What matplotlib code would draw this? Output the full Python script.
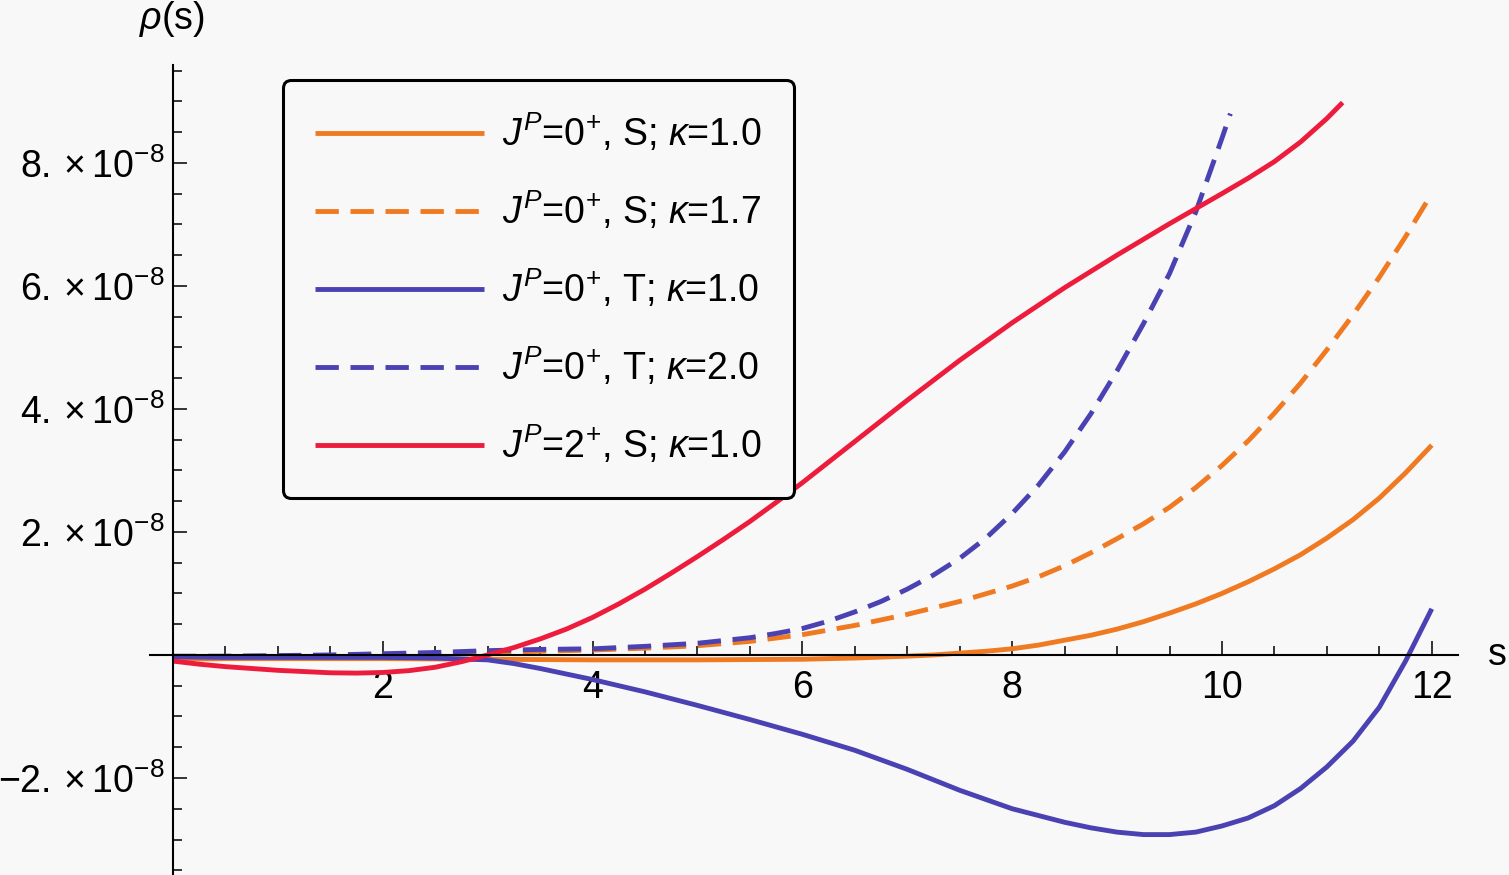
import numpy as np
import matplotlib
matplotlib.use("Agg")
import matplotlib.pyplot as plt

plt.rcParams['font.family'] = ['Liberation Sans', 'DejaVu Sans']
plt.rcParams['mathtext.fontset'] = 'custom'
plt.rcParams['mathtext.rm'] = 'Liberation Sans'
plt.rcParams['mathtext.it'] = 'Liberation Sans:italic'
plt.rcParams['mathtext.bf'] = 'Liberation Sans:bold'

# ---------------- data (values in units of 1e-8) ----------------
s_S10 = [0, 0.5, 1, 2, 3, 4, 5, 6, 6.5, 7, 7.25, 7.5, 7.75, 8, 8.25, 8.5, 8.75, 9, 9.25,
         9.5, 9.75, 10, 10.25, 10.5, 10.75, 11, 11.25, 11.5, 11.75, 12]
rho_S10 = [-0.07, -0.06, -0.06, -0.06, -0.07, -0.08, -0.08, -0.07, -0.05, -0.02, 0.0, 0.03,
           0.06, 0.10, 0.16, 0.24, 0.32, 0.42, 0.54, 0.68, 0.83, 1.00, 1.19, 1.40, 1.63,
           1.90, 2.20, 2.55, 2.96, 3.41]

s_S17 = [0, 0.5, 1, 1.5, 2, 2.5, 3, 3.5, 4, 4.5, 5, 5.5, 6, 6.5, 7, 7.5, 8, 8.25, 8.5, 8.75,
         9, 9.25, 9.5, 9.75, 10, 10.25, 10.5, 10.75, 11, 11.25, 11.5, 11.75, 12]
rho_S17 = [-0.07, -0.05, -0.03, -0.01, 0.0, 0.02, 0.04, 0.06, 0.08, 0.11, 0.15, 0.22, 0.33,
           0.48, 0.66, 0.87, 1.12, 1.27, 1.45, 1.66, 1.89, 2.13, 2.40, 2.72, 3.08, 3.48,
           3.93, 4.42, 4.96, 5.53, 6.14, 6.80, 7.50]

s_T10 = [0, 0.5, 1, 1.5, 2, 2.5, 3, 3.25, 3.5, 3.75, 4, 4.5, 5, 5.5, 6, 6.5, 7, 7.5, 8,
         8.5, 8.75, 9, 9.25, 9.5, 9.75, 10, 10.25, 10.5, 10.75, 11, 11.25, 11.5, 11.75, 12]
rho_T10 = [-0.03, -0.04, -0.04, -0.04, -0.04, -0.05, -0.08, -0.14, -0.22, -0.31, -0.40,
           -0.60, -0.82, -1.05, -1.29, -1.55, -1.86, -2.20, -2.50, -2.72, -2.81, -2.88,
           -2.92, -2.92, -2.88, -2.78, -2.65, -2.45, -2.17, -1.82, -1.40, -0.85, -0.10, 0.75]

s_T20 = [0, 0.5, 1, 1.5, 2, 2.5, 3, 3.5, 4, 4.5, 5, 5.5, 5.75, 6, 6.25, 6.5, 6.75, 7, 7.25,
         7.5, 7.75, 8, 8.25, 8.5, 8.75, 9, 9.25, 9.5, 9.75, 10, 10.08]
rho_T20 = [-0.02, -0.02, -0.01, 0.0, 0.02, 0.04, 0.07, 0.09, 0.10, 0.14, 0.19, 0.28, 0.35,
           0.43, 0.55, 0.70, 0.87, 1.07, 1.30, 1.57, 1.90, 2.30, 2.76, 3.30, 3.92, 4.62,
           5.38, 6.20, 7.20, 8.40, 8.80]

s_2S = [0, 0.25, 0.5, 0.75, 1, 1.25, 1.5, 1.75, 2, 2.25, 2.5, 2.75, 3, 3.25, 3.5, 3.75, 4,
        4.25, 4.5, 4.75, 5, 5.25, 5.5, 5.75, 6, 6.5, 7, 7.5, 8, 8.5, 9, 9.5, 10, 10.25,
        10.5, 10.75, 11, 11.15]
rho_2S = [-0.10, -0.15, -0.19, -0.22, -0.25, -0.27, -0.29, -0.295, -0.285, -0.255, -0.20,
          -0.11, 0.0, 0.12, 0.26, 0.42, 0.61, 0.83, 1.07, 1.33, 1.60, 1.88, 2.17, 2.48,
          2.80, 3.47, 4.14, 4.79, 5.40, 5.97, 6.50, 7.01, 7.50, 7.75, 8.02, 8.34, 8.72, 8.98]

labels = [r'$J^P$=0$^{+}$, S; $\kappa$=1.0',
          r'$J^P$=0$^{+}$, S; $\kappa$=1.7',
          r'$J^P$=0$^{+}$, T; $\kappa$=1.0',
          r'$J^P$=0$^{+}$, T; $\kappa$=2.0',
          r'$J^P$=2$^{+}$, S; $\kappa$=1.0']

x_major = [2, 4, 6, 8, 10, 12]
x_major_labels = ['2', '4', '6', '8', '10', '12']
y_major = [-2e-8, 2e-8, 4e-8, 6e-8, 8e-8]
y_major_labels = [r'$-2.\times10^{-8}$', r'$2.\times10^{-8}$', r'$4.\times10^{-8}$',
                  r'$6.\times10^{-8}$', r'$8.\times10^{-8}$']

# ---------------- style ----------------
W, H = 1509, 875
BG = '#f8f8f8'
ORANGE = '#F07A22'
BLUE = '#4A42B2'
RED = '#EE1C3C'
FS = 27
LW = 3.5

fig = plt.figure(figsize=(W / 100, H / 100), dpi=100, facecolor=BG)
ax = fig.add_axes([150 / W, 0, 1308 / W, 810 / H], facecolor=BG)

scale = 1e-8
dash = (0, (4.8, 2.4))
series = [
    (s_S10, rho_S10, ORANGE, '-'),
    (s_S17, rho_S17, ORANGE, dash),
    (s_T10, rho_T10, BLUE, '-'),
    (s_T20, rho_T20, BLUE, dash),
    (s_2S, rho_2S, RED, '-'),
]
handles = []
for (sx, ry, c, ls), lab in zip(series, labels):
    h, = ax.plot(sx, np.array(ry) * scale, color=c, lw=LW, linestyle=ls, label=lab,
                 solid_capstyle='butt', dash_capstyle='butt', solid_joinstyle='round')
    handles.append(h)

ax.set_xlim(-0.219, 12.25)
ax.set_ylim(-3.577e-8, 9.59e-8)

for sp in ['top', 'right']:
    ax.spines[sp].set_visible(False)
ax.spines['left'].set_position(('data', 0))
ax.spines['bottom'].set_position(('data', 0))
for sp in ['left', 'bottom']:
    ax.spines[sp].set_linewidth(1.5)
    ax.spines[sp].set_color('black')

ax.set_xticks(x_major)
ax.set_xticklabels(x_major_labels)
xminor = [v for v in np.arange(0.5, 12.01, 0.5) if v not in x_major]
ax.set_xticks(xminor, minor=True)
ax.set_yticks(y_major)
ax.set_yticklabels(y_major_labels)
yminor = [v * 1e-8 for v in np.arange(-3.5, 9.51, 0.5) if abs(v) > 1e-9
          and v not in (-2, 2, 4, 6, 8)]
ax.set_yticks(yminor, minor=True)

ax.tick_params(which='both', direction='in', colors='black', width=1.1, labelsize=FS)
ax.tick_params(which='major', length=10)
ax.tick_params(which='minor', length=6.5)
ax.tick_params(axis='x', which='major', pad=11)
ax.tick_params(axis='y', which='major', pad=6)

fig.text(172 / W, 1 - 19 / H, r'$\rho$(s)', fontsize=FS, ha='center', va='center')
fig.text(1497 / W, 1 - 655 / H, 's', fontsize=FS, ha='center', va='center')

leg = ax.legend(handles=handles, loc='upper left',
                bbox_to_anchor=(283 / W, 1 - 80 / H), bbox_transform=fig.transFigure,
                fontsize=FS, frameon=True, fancybox=True, framealpha=1,
                facecolor=BG, edgecolor='black', handlelength=4.5, handletextpad=0.5,
                labelspacing=0.94, borderpad=0.85, borderaxespad=0)
leg.get_frame().set_linewidth(2.2)
leg.get_frame().set_boxstyle('round,pad=0,rounding_size=0.2')

fig.savefig('out.png', dpi=100, facecolor=BG)
